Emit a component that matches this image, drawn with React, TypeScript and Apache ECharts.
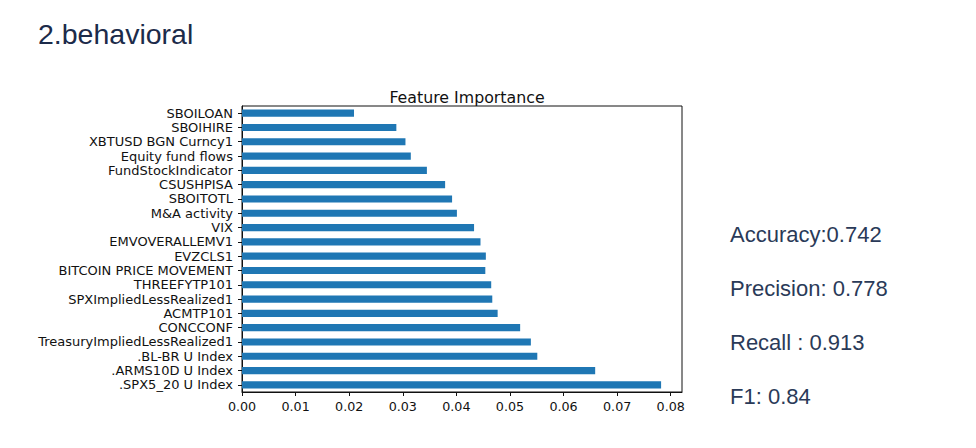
import React, { useEffect, useRef } from "react";
import * as echarts from "echarts";

const heading = "2.behavioral";
const chartTitle = "Feature Importance";

const categories = [
  "SBOILOAN",
  "SBOIHIRE",
  "XBTUSD BGN Curncy1",
  "Equity fund flows",
  "FundStockIndicator",
  "CSUSHPISA",
  "SBOITOTL",
  "M&A activity",
  "VIX",
  "EMVOVERALLEMV1",
  "EVZCLS1",
  "BITCOIN PRICE MOVEMENT",
  "THREEFYTP101",
  "SPXImpliedLessRealized1",
  "ACMTP101",
  "CONCCONF",
  "TreasuryImpliedLessRealized1",
  ".BL-BR U Index",
  ".ARMS10D U Index",
  ".SPX5_20 U Index",
];

const importances = [
  0.0209, 0.0288, 0.0305, 0.0315, 0.0345, 0.0379, 0.0392, 0.0401, 0.0433,
  0.0445, 0.0455, 0.0454, 0.0465, 0.0467, 0.0477, 0.0519, 0.0539, 0.0551,
  0.0659, 0.0782,
];

const xTicks = [0, 0.01, 0.02, 0.03, 0.04, 0.05, 0.06, 0.07, 0.08];
const xMax = 0.0821;

const metricNames = ["Accuracy:", "Precision: ", "Recall : ", "F1: "];
const metricValues = ["0.742", "0.778", "0.913", "0.84"];

export default function App() {
  const ref = useRef<HTMLDivElement>(null);

  useEffect(() => {
    if (!ref.current) return;
    const chart = echarts.init(ref.current, null, { renderer: "svg" });
    const font = "DejaVu Sans";
    const metricTexts = metricNames.map((n, i) => ({
      type: "text",
      left: 730,
      top: 234 + i * 54.2 - 11,
      style: {
        text: n + metricValues[i],
        font: '22px "Liberation Sans", Arial, sans-serif',
        fill: "#2a3a58",
      },
    }));
    chart.setOption({
      animation: false,
      backgroundColor: "#ffffff",
      title: [
        {
          text: heading,
          left: 33,
          top: 14,
          textStyle: {
            fontFamily: "Liberation Sans",
            fontSize: 28.5,
            fontWeight: "normal",
            color: "#1c2b4a",
          },
        },
        {
          text: chartTitle,
          left: 462,
          top: 84,
          textAlign: "center",
          textStyle: {
            fontFamily: font,
            fontSize: 15.8,
            fontWeight: "normal",
            color: "#111",
          },
        },
      ],
      graphic: metricTexts,
      grid: {
        left: 242,
        top: 106,
        right: 294,
        bottom: 56,
        show: true,
        borderColor: "#111",
        borderWidth: 1,
        backgroundColor: "transparent",
        containLabel: false,
      },
      xAxis: {
        type: "value",
        min: 0,
        max: xMax,
        splitLine: { show: false },
        axisLine: { show: true, lineStyle: { color: "#111", width: 1 } },
        axisTick: {
          show: true,
          length: 4,
          customValues: xTicks,
          lineStyle: { color: "#111" },
        },
        axisLabel: {
          customValues: xTicks,
          formatter: (v: number) => v.toFixed(2),
          fontFamily: font,
          fontSize: 12.7,
          color: "#111",
          margin: 8,
        },
      },
      yAxis: {
        type: "category",
        inverse: true,
        data: categories,
        axisLine: { show: true, lineStyle: { color: "#111", width: 1 } },
        axisTick: {
          show: true,
          length: 4,
          alignWithLabel: true,
          lineStyle: { color: "#111" },
        },
        axisLabel: {
          fontFamily: font,
          fontSize: 13,
          color: "#111",
          margin: 9,
          interval: 0,
        },
        splitLine: { show: false },
      },
      series: [
        {
          type: "bar",
          data: importances,
          barWidth: "50%",
          itemStyle: { color: "#1f77b4" },
        },
      ],
    });
    return () => chart.dispose();
  }, []);

  return (
    <div
      ref={ref}
      style={{
        position: "fixed",
        left: 0,
        top: 0,
        width: 976,
        height: 448,
        background: "#fff",
      }}
    />
  );
}
